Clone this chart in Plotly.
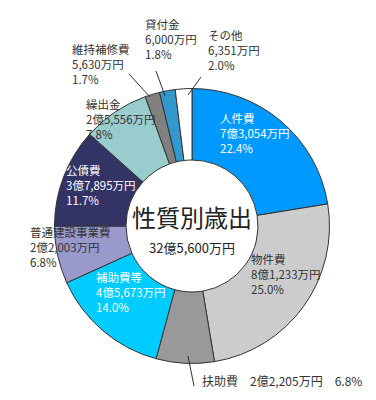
import plotly.graph_objects as go

# Data (万円)
categories = ["人件費", "物件費", "扶助費", "補助費等", "普通建設事業費",
              "公債費", "繰出金", "維持補修費", "貸付金", "その他"]
values = [73054, 81233, 22205, 45673, 22003, 37895, 25556, 5630, 6000, 6351]
amount_labels = ["7億3,054万円", "8億1,233万円", "2億2,205万円", "4億5,673万円",
                 "2億2,003万円", "3億7,895万円", "2億5,556万円", "5,630万円",
                 "6,000万円", "6,351万円"]
percent_labels = ["22.4%", "25.0%", "6.8%", "14.0%", "6.8%",
                  "11.7%", "7.8%", "1.7%", "1.8%", "2.0%"]
center_title = "性質別歳出"
center_total = "32億5,600万円"

colors = ["#0099ff", "#cccccc", "#999999", "#00ccff", "#9999cc",
          "#333366", "#99cccc", "#808080", "#3399cc", "#ffffff"]

W, H = 376, 400
FONT = "Noto Sans CJK JP"

fig = go.Figure()
cx, cy, r = 184, 218, 137.5
fig.add_trace(go.Pie(
    labels=categories, values=values, sort=False, direction="clockwise",
    rotation=0, hole=0.48, textinfo="none", hoverinfo="label+value+percent",
    marker=dict(colors=colors, line=dict(color="#333333", width=1)),
    domain=dict(x=[(cx - r) / W, (cx + r) / W],
                y=[(H - cy - r) / H, (H - cy + r) / H]),
    showlegend=False,
))

# label placement (pixel position: left edge, centre of first line), text colour
label_layout = [
    (211, 117, "white"),
    (242, 258, "#333333"),
    None,
    (87, 276, "white"),
    (21, 231, "#333333"),
    (57, 169, "white"),
    (77, 103, "#333333"),
    (63, 48, "#333333"),
    (136, 23, "#333333"),
    (199, 34, "#333333"),
]
BLOCK_OFFSET = 8
annotations = []
for i, pos in enumerate(label_layout):
    if pos is None:
        continue
    x, y, col = pos
    text = "<br>".join([categories[i], amount_labels[i], percent_labels[i]])
    annotations.append(dict(
        x=x / W, y=1 - (y + BLOCK_OFFSET) / H, xref="paper", yref="paper",
        xanchor="left", yanchor="middle", align="left", showarrow=False,
        text=text, borderpad=0,
        font=dict(family=FONT, size=11.5, color=col)))

# 扶助費 single-line label
annotations.append(dict(
    x=192 / W, y=1 - 372 / H, xref="paper", yref="paper",
    xanchor="left", yanchor="middle", showarrow=False,
    text=f"{categories[2]}\u3000{amount_labels[2]}\u3000{percent_labels[2]}",
    font=dict(family=FONT, size=12, color="#333333")))

# centre text
annotations.append(dict(
    x=cx / W, y=1 - 208 / H, xref="paper", yref="paper", showarrow=False,
    text=center_title, font=dict(family=FONT, size=24, color="#222222"),
    xanchor="center", yanchor="middle", borderpad=0))
annotations.append(dict(
    x=cx / W, y=1 - 239 / H, xref="paper", yref="paper", showarrow=False,
    text=center_total, font=dict(family=FONT, size=13, color="#222222"),
    xanchor="center", yanchor="middle", borderpad=0))

leaders = [
    ((180, 348), (186, 378)),
    ((121, 66), (142, 89)),
    ((148, 63), (157, 88)),
    ((193, 69), (180, 87)),
]
shapes = []
for (x0, y0), (x1, y1) in leaders:
    shapes.append(dict(type="line", xref="paper", yref="paper",
                       x0=x0 / W, y0=1 - y0 / H, x1=x1 / W, y1=1 - y1 / H,
                       line=dict(color="#333333", width=1)))

fig.update_layout(
    width=W, height=H, margin=dict(l=0, r=0, t=0, b=0),
    paper_bgcolor="white", plot_bgcolor="white",
    annotations=annotations, shapes=shapes,
)

fig.write_html("out.html")
